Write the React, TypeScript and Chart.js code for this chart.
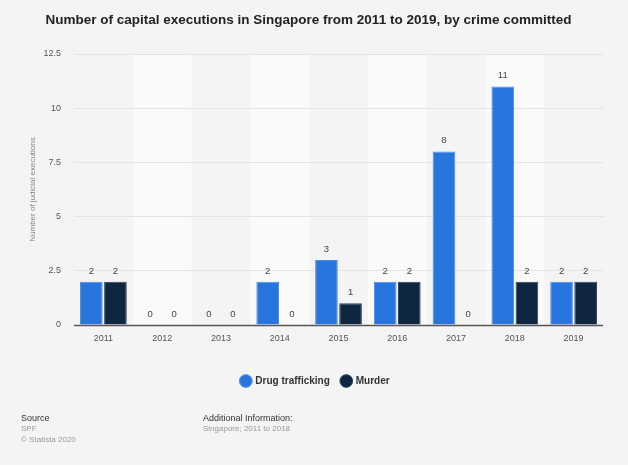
import React, { useEffect, useRef } from "react";
import { Chart, registerables } from "chart.js";

Chart.register(...registerables);

const years = ["2011", "2012", "2013", "2014", "2015", "2016", "2017", "2018", "2019"];
const drugTrafficking = [2, 0, 0, 2, 3, 2, 8, 11, 2];
const murder = [2, 0, 0, 0, 1, 2, 0, 2, 2];
const yTicks = [0, 2.5, 5, 7.5, 10, 12.5];

const FONT = "'Liberation Sans', Arial, Helvetica, sans-serif";
const TITLE = "Number of capital executions in Singapore from 2011 to 2019, by crime committed";

const bgPlugin = {
  id: "bgPlugin",
  beforeDraw(chart: any) {
    const { ctx, width, height, chartArea, scales } = chart;
    ctx.save();
    ctx.fillStyle = "#f4f4f4";
    ctx.fillRect(0, 0, width, height);
    ctx.fillStyle = "#ffffff";
    ctx.fillRect(0, height - 2, width, 2);
    const x = scales.x;
    const n = years.length;
    const w = (chartArea.right - chartArea.left) / n;
    ctx.fillStyle = "#fafafa";
    for (let i = 0; i < n; i++) {
      if (i % 2 === 1) {
        const cx = x.getPixelForValue(i);
        ctx.fillRect(cx - w / 2, chartArea.top, w, chartArea.bottom - chartArea.top);
      }
    }
    ctx.restore();
  },
  afterDraw(chart: any) {
    const { ctx } = chart;
    ctx.save();
    // title
    ctx.font = `bold 13.5px ${FONT}`;
    ctx.fillStyle = "#222";
    ctx.textAlign = "center";
    ctx.textBaseline = "middle";
    ctx.fillText(TITLE, 308.5, 20);
    // data labels
    ctx.font = `9.5px ${FONT}`;
    ctx.fillStyle = "#444";
    ctx.textBaseline = "bottom";
    chart.data.datasets.forEach((ds: any, di: number) => {
      const meta = chart.getDatasetMeta(di);
      meta.data.forEach((bar: any, i: number) => {
        ctx.fillText(String(ds.data[i]), bar.x, bar.y - 6);
      });
    });
    const ca = chart.chartArea;
    ctx.strokeStyle = "#555";
    ctx.lineWidth = 1.5;
    ctx.beginPath();
    ctx.moveTo(ca.left, ca.bottom + 0.5);
    ctx.lineTo(ca.right, ca.bottom + 0.5);
    ctx.stroke();
    // footer
    ctx.textAlign = "left";
    ctx.textBaseline = "alphabetic";
    ctx.font = `9px ${FONT}`;
    ctx.fillStyle = "#333";
    ctx.fillText("Source", 21, 421);
    ctx.fillText("Additional Information:", 203, 421);
    ctx.font = `8px ${FONT}`;
    ctx.fillStyle = "#999";
    ctx.fillText("SPF", 21, 431);
    ctx.fillText("© Statista 2020", 21, 442);
    ctx.fillText("Singapore; 2011 to 2018", 203, 431);
    ctx.restore();
  },
};

export default function App() {
  const ref = useRef<HTMLCanvasElement>(null);
  useEffect(() => {
    document.body.style.margin = "0";
    const chart = new Chart(ref.current!, {
      type: "bar",
      data: {
        labels: years,
        datasets: [
          {
            label: "Drug trafficking",
            data: drugTrafficking,
            backgroundColor: "#2876dd",
            borderColor: "#4a8ee6",
            borderWidth: 1,
            categoryPercentage: 0.82,
            barPercentage: 0.94,
          },
          {
            label: "Murder",
            data: murder,
            backgroundColor: "#0f2640",
            borderColor: "#2e4460",
            borderWidth: 1,
            categoryPercentage: 0.82,
            barPercentage: 0.94,
          },
        ],
      },
      options: {
        animation: false,
        responsive: false,
        devicePixelRatio: 1,
        layout: { padding: { left: 28, right: 25, top: 54, bottom: 71 } },
        plugins: {
          title: { display: false },
          legend: {
            position: "bottom",
            labels: {
              usePointStyle: true,
              pointStyle: "circle",
              boxWidth: 9,
              boxHeight: 9,
              padding: 12,
              color: "#333",
              font: { family: FONT, size: 10, weight: "bold" },
            },
          },
          tooltip: { enabled: false },
        },
        scales: {
          x: {
            grid: { display: false },
            border: { display: false },
            ticks: { color: "#555", font: { family: FONT, size: 9 }, padding: 0 },
            afterFit(scale: any) {
              scale.height = 39;
            },
          },
          y: {
            min: 0,
            max: 12.5,
            afterBuildTicks(axis: any) {
              axis.ticks = yTicks.map((v) => ({ value: v }));
            },
            afterFit(scale: any) {
              scale.width = 46;
            },
            grid: { color: "#e3e3e3", drawTicks: false },
            border: { display: false },
            ticks: {
              color: "#555",
              font: { family: FONT, size: 9 },
              padding: 13,
              callback: (v: any) => String(v),
            },
            title: {
              display: true,
              text: "Number of judicial executions",
              color: "#888",
              font: { family: FONT, size: 8 },
              padding: { top: 0, bottom: 0 },
            },
          },
        },
      },
      plugins: [bgPlugin],
    });
    return () => chart.destroy();
  }, []);
  return <canvas ref={ref} width={628} height={467} style={{ display: "block" }} />;
}
